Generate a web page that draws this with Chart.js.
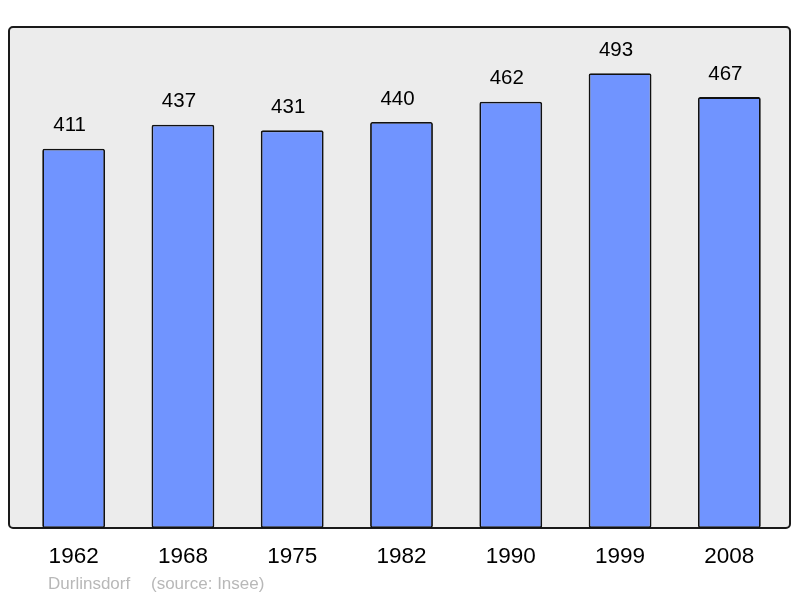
<!DOCTYPE html>
<html lang="fr">
<head>
    <meta charset="UTF-8">
    <title>Durlinsdorf</title>
    <style>
        body { margin: 0; background: #fff; }
        #wrap { position: relative; width: 800px; height: 598px; }
    </style>
</head>
<body>
    <div id="wrap"><canvas id="myChart" width="800" height="598"></canvas></div>
    <script src="https://cdn.jsdelivr.net/npm/chart.js"></script>
    <script>
        const annees = ['1962', '1968', '1975', '1982', '1990', '1999', '2008']
        const population = [411, 437, 431, 440, 462, 493, 467]
        const yMax = 543

        // fond gris, valeurs et textes
        const decor = {
            id: 'decor',
            beforeDraw(chart) {
                const c = chart.ctx
                c.save()
                c.fillStyle = '#ececec'
                c.strokeStyle = '#1a1a1a'
                c.lineWidth = 2
                c.beginPath()
                c.roundRect(9, 27, 781, 501, 4)
                c.fill()
                c.stroke()
                c.restore()
            },
            afterDatasetsDraw(chart) {
                const c = chart.ctx
                const x = chart.scales.x
                const y = chart.scales.y
                c.save()
                c.fillStyle = '#000'
                c.textAlign = 'center'
                c.textBaseline = 'middle'
                c.font = '20.5px "Liberation Sans", Arial, sans-serif'
                population.forEach((v, i) => {
                    c.fillText(v, x.getPixelForValue(i) - 4, y.getPixelForValue(v) - 23)
                })
                c.font = '22.5px "Liberation Sans", Arial, sans-serif'
                annees.forEach((a, i) => {
                    c.fillText(a, x.getPixelForValue(i), 557)
                })
                c.fillStyle = '#b8b8b8'
                c.textAlign = 'left'
                c.font = '17px "Liberation Sans", Arial, sans-serif'
                c.fillText('Durlinsdorf', 48, 584)
                c.fillText('(source: Insee)', 151, 584)
                c.restore()
            }
        }

        var ctx = document.getElementById('myChart')
        var myChart = new Chart(ctx, {
            type: 'bar',
            data: {
                labels: annees,
                datasets: [{
                    data: population,
                    backgroundColor: '#7094ff',
                    borderColor: '#111',
                    borderWidth: 1.8,
                    borderRadius: 2,
                    borderSkipped: false,
                    barPercentage: 0.575,
                    categoryPercentage: 1
                }]
            },
            options: {
                responsive: false,
                animation: false,
                layout: { padding: { left: 19, right: 16, top: 27, bottom: 70 } },
                plugins: { legend: { display: false }, tooltip: { enabled: false } },
                scales: {
                    x: { display: false },
                    y: { display: false, min: 0, max: yMax }
                }
            },
            plugins: [decor]
        })
    </script>
</body>
</html>
